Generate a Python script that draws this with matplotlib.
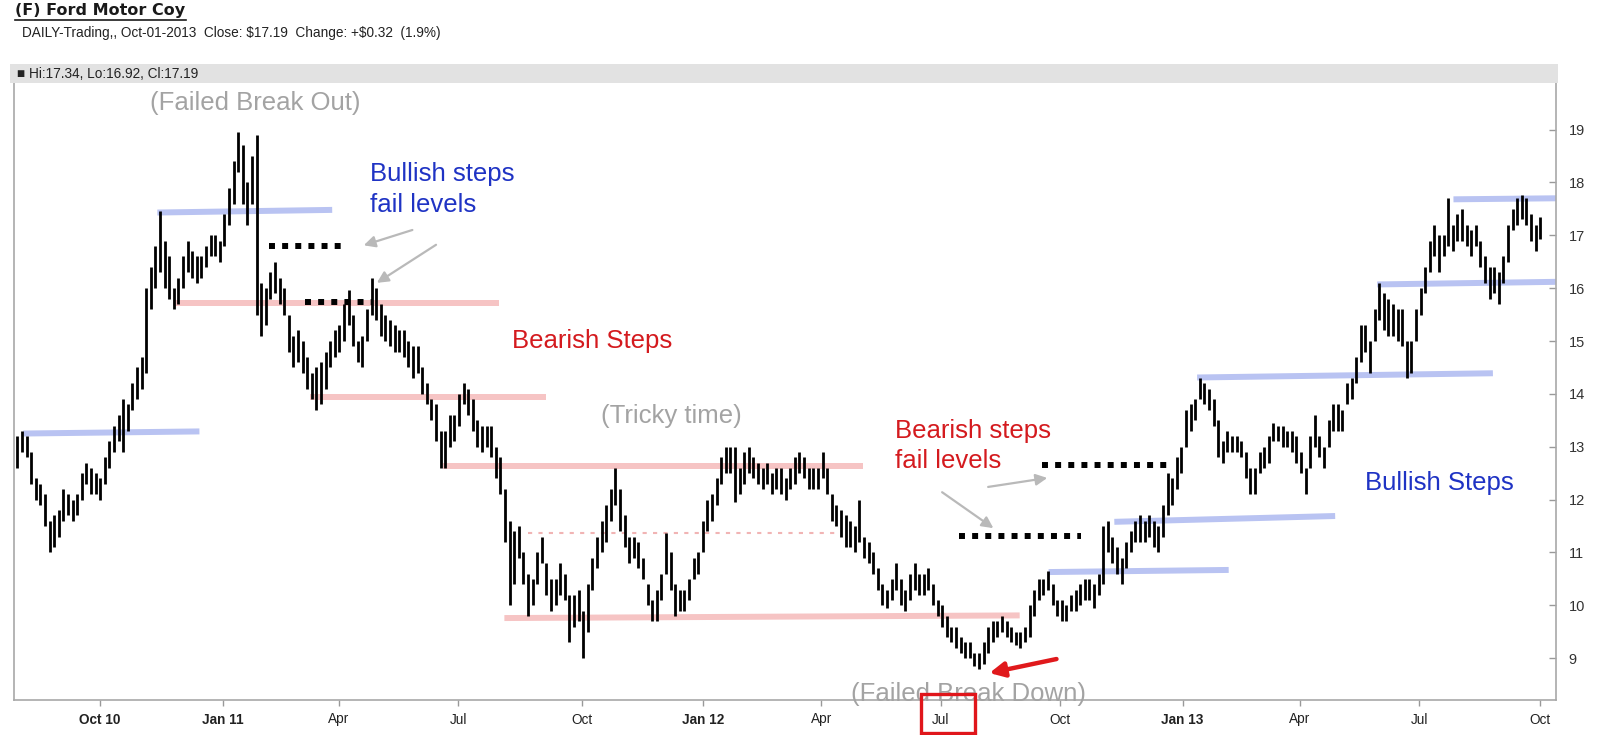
import pandas as pd
import matplotlib
matplotlib.use("Agg")
import matplotlib.pyplot as plt
import matplotlib.dates as mdates
from matplotlib.patches import Rectangle

plt.rcParams['font.family'] = ['Liberation Sans', 'DejaVu Sans']

# half-week bars (two per week, Mon-Wed / Wed-Fri), highs and lows
hi_2010 = [13.2,
           13.3, 13.2, 12.9, 12.4, 12.3, 12.1, 11.6, 11.7, 11.8, 12.2,   # Aug
           12.1, 12.0, 12.1, 12.5, 12.7, 12.6, 12.5, 12.4,               # Sep
           12.8, 13.1, 13.4, 13.6, 13.9, 13.8, 14.2, 14.5,               # Oct
           14.7, 16.0, 16.4, 16.8, 17.45, 16.9, 16.6, 16.0, 16.2, 16.6,  # Nov
           16.9, 16.7, 16.6, 16.6, 16.8, 17.0, 17.0, 16.9]               # Dec
lo_2010 = [12.6,
           12.9, 12.8, 12.3, 12.0, 11.9, 11.5, 11.0, 11.1, 11.3, 11.6,
           11.7, 11.6, 11.7, 12.0, 12.3, 12.1, 12.1, 12.0,
           12.3, 12.6, 12.9, 13.1, 12.9, 13.3, 13.7, 13.9,
           14.1, 14.4, 15.6, 16.0, 16.3, 16.0, 15.8, 15.6, 15.7, 16.0,
           16.3, 16.2, 16.1, 16.2, 16.4, 16.6, 16.6, 16.5]

hi_2011 = [17.4, 17.9, 18.4, 18.95, 18.7, 18.0, 18.5, 18.9, 16.1, 16.0,   # Jan
           16.3, 16.5, 16.2, 16.0, 15.5, 15.1, 15.2, 15.0,                # Feb
           14.7, 14.4, 14.5, 14.6, 14.8, 15.0, 15.2, 15.3,                # Mar
           15.7, 15.96, 15.5, 15.0, 15.1, 15.6, 16.2, 16.0,               # Apr
           15.7, 15.5, 15.4, 15.3, 15.2, 15.2, 15.0, 14.9, 14.9, 14.5,    # May
           14.2, 13.9, 13.8, 13.3, 13.3, 13.6, 13.6, 14.0,                # Jun
           14.2, 14.1, 13.9, 13.5, 13.4, 13.4, 13.4, 13.0,                # Jul
           12.8, 12.2, 11.6, 11.4, 11.5, 11.0, 10.6, 10.5, 11.0, 11.3,    # Aug
           10.8, 10.5, 10.5, 10.8, 10.6, 10.2, 10.2, 10.3,                # Sep
           9.9, 10.4, 10.9, 11.3, 11.6, 11.9, 12.2, 12.6, 12.2, 11.7,     # Oct
           11.3, 11.3, 11.2, 10.9, 10.4, 10.1, 10.3, 10.6,                # Nov
           11.36, 11.0, 10.4, 10.3, 10.3, 10.5, 10.9, 11.0]               # Dec
lo_2011 = [16.8, 17.2, 17.6, 18.2, 17.6, 17.2, 17.6, 15.5, 15.1, 15.3,
           15.8, 15.9, 15.7, 15.5, 14.8, 14.5, 14.6, 14.4,
           14.1, 13.9, 13.7, 13.8, 14.1, 14.5, 14.7, 14.8,
           15.0, 15.3, 14.9, 14.6, 14.5, 15.0, 15.5, 15.4,
           15.1, 15.0, 14.9, 14.8, 14.8, 14.7, 14.5, 14.3, 14.4, 14.0,
           13.8, 13.5, 13.1, 12.6, 12.6, 13.0, 13.1, 13.4,
           13.8, 13.6, 13.3, 13.0, 12.9, 13.0, 12.8, 12.4,
           12.1, 11.2, 10.0, 10.4, 10.9, 10.4, 9.8, 10.0, 10.4, 10.8,
           10.2, 9.9, 10.0, 10.2, 10.1, 9.3, 9.6, 9.7,
           9.0, 9.5, 10.3, 10.7, 11.0, 11.2, 11.6, 11.9, 11.4, 11.1,
           10.8, 10.9, 10.7, 10.5, 10.0, 9.7, 9.7, 10.1,
           10.6, 10.3, 9.8, 9.9, 9.9, 10.1, 10.5, 10.6]

hi_2012 = [11.6, 12.0, 12.1, 12.4, 12.8, 13.0, 13.0, 13.0, 12.6, 12.9,    # Jan
           13.0, 12.8, 12.7, 12.6, 12.7, 12.5, 12.6, 12.6,                # Feb
           12.4, 12.6, 12.8, 12.9, 12.8, 12.6, 12.6, 12.6,                # Mar
           12.9, 12.6, 12.1, 11.9, 11.8, 11.7, 11.6, 11.5, 12.0, 11.3,    # Apr
           11.2, 11.0, 10.7, 10.4, 10.3, 10.5, 10.8, 10.5,                # May
           10.3, 10.6, 10.8, 10.6, 10.6, 10.7, 10.4, 10.1,                # Jun
           10.0, 9.8, 9.6, 9.6, 9.4, 9.3, 9.3, 9.1, 9.1, 9.3,             # Jul
           9.6, 9.7, 9.7, 9.8, 9.7, 9.6, 9.5, 9.5,                        # Aug
           9.6, 10.0, 10.3, 10.5, 10.5, 10.65, 10.4, 10.1,                # Sep
           10.1, 10.0, 10.2, 10.3, 10.4, 10.5, 10.5, 10.4, 10.6, 11.5,    # Oct
           11.6, 11.3, 11.1, 10.9, 11.2, 11.4, 11.6, 11.7,                # Nov
           11.6, 11.7, 11.6, 11.5, 11.9, 12.5, 12.4, 12.8, 13.0, 13.7]    # Dec
lo_2012 = [11.0, 11.4, 11.6, 11.9, 12.3, 12.5, 12.5, 11.95, 12.1, 12.3,
           12.5, 12.4, 12.3, 12.2, 12.3, 12.1, 12.2, 12.1,
           12.0, 12.2, 12.3, 12.5, 12.4, 12.2, 12.2, 12.2,
           12.4, 12.1, 11.6, 11.5, 11.3, 11.1, 11.1, 11.0, 11.2, 10.9,
           10.8, 10.6, 10.3, 10.0, 9.95, 10.1, 10.3, 10.0,
           9.9, 10.1, 10.3, 10.2, 10.2, 10.3, 10.0, 9.8,
           9.6, 9.4, 9.3, 9.2, 9.1, 9.0, 9.0, 8.85, 8.8, 8.9,
           9.1, 9.3, 9.4, 9.5, 9.4, 9.3, 9.25, 9.2,
           9.3, 9.4, 9.8, 10.1, 10.2, 10.3, 10.0, 9.8,
           9.7, 9.7, 9.9, 9.9, 10.0, 10.1, 10.1, 9.95, 10.2, 10.4,
           11.0, 10.8, 10.6, 10.4, 10.7, 11.0, 11.2, 11.2,
           11.2, 11.3, 11.1, 11.0, 11.3, 11.7, 11.9, 12.2, 12.5, 13.0]

hi_2013 = [13.8, 13.9, 14.3, 14.2, 14.1, 13.9, 13.5, 13.1,                # Jan
           13.3, 13.2, 13.2, 13.1, 12.9, 12.6, 12.6, 12.9,                # Feb
           13.0, 13.2, 13.45, 13.4, 13.4, 13.3, 13.3, 13.2,               # Mar
           12.9, 12.6, 13.2, 13.6, 13.2, 13.0, 13.5, 13.8, 13.8, 13.7,    # Apr
           14.2, 14.3, 14.7, 15.3, 15.3, 15.0, 15.6, 16.1,                # May
           15.9, 15.8, 15.7, 15.6, 15.6, 15.0, 15.0, 15.6,                # Jun
           16.0, 16.4, 16.9, 17.2, 17.0, 17.0, 17.7, 17.2, 17.4, 17.5,    # Jul
           17.2, 17.1, 17.2, 16.9, 16.6, 16.4, 16.4, 16.3,                # Aug
           16.6, 17.2, 17.5, 17.7, 17.76, 17.7, 17.4, 17.2,               # Sep
           17.34]                                                         # Oct 1
lo_2013 = [13.3, 13.5, 13.9, 13.8, 13.7, 13.4, 12.8, 12.7,
           12.9, 12.9, 12.9, 12.8, 12.4, 12.1, 12.1, 12.5,
           12.6, 12.7, 13.1, 13.1, 13.0, 13.0, 12.9, 12.7,
           12.5, 12.1, 12.6, 13.0, 12.8, 12.6, 13.0, 13.3, 13.3, 13.3,
           13.8, 13.9, 14.2, 14.6, 14.8, 14.4, 15.0, 15.4,
           15.2, 15.1, 15.1, 15.0, 14.9, 14.3, 14.4, 15.0,
           15.5, 15.9, 16.3, 16.6, 16.3, 16.6, 16.8, 16.7, 16.9, 16.9,
           16.8, 16.6, 16.8, 16.4, 16.1, 15.8, 15.9, 15.7,
           16.1, 16.5, 17.1, 17.2, 17.3, 17.2, 16.9, 16.7,
           16.92]

hi = hi_2010 + hi_2011 + hi_2012 + hi_2013
lo = lo_2010 + lo_2011 + lo_2012 + lo_2013

mondays = pd.date_range('2010-07-26', '2013-09-30', freq='W-MON')
bar_days = [m + pd.Timedelta(days=o) for m in mondays for o in (1.0, 4.5)][1:-1]
n = min(len(bar_days), len(hi))
bar_x = mdates.date2num(bar_days[:n])

# support / resistance steps drawn on the chart: (start, end, level at start, level at end)
blue_steps = [('2010-08-04', '2010-12-16', 13.25, 13.29),
              ('2010-11-14', '2011-03-27', 17.43, 17.48),
              ('2012-09-22', '2013-02-06', 10.63, 10.67),
              ('2012-11-11', '2013-04-28', 11.58, 11.69),
              ('2013-01-13', '2013-08-26', 14.31, 14.39),
              ('2013-05-30', '2013-10-15', 16.07, 16.12),
              ('2013-07-27', '2013-10-15', 17.68, 17.70)]
red_steps = [('2010-11-26', '2011-08-01', 15.71, 15.71),
             ('2011-03-10', '2011-09-06', 13.95, 13.95),
             ('2011-06-19', '2012-05-04', 12.64, 12.64),
             ('2011-08-05', '2012-08-31', 9.76, 9.81)]
pink_dotted = ('2011-08-23', '2012-04-14', 11.37)
fail_levels = [('2011-02-07', '2011-04-04', 16.79),
               ('2011-03-06', '2011-04-27', 15.74),
               ('2012-07-16', '2012-10-17', 11.31),
               ('2012-09-17', '2012-12-21', 12.65)]

tick_days = ['2010-10-01', '2011-01-03', '2011-04-01', '2011-07-01', '2011-10-03',
             '2012-01-03', '2012-04-02', '2012-07-02', '2012-10-01', '2013-01-02',
             '2013-04-01', '2013-07-01', '2013-10-01']
tick_labels = ['Oct 10', 'Jan 11', 'Apr', 'Jul', 'Oct', 'Jan 12', 'Apr', 'Jul', 'Oct',
               'Jan 13', 'Apr', 'Jul', 'Oct']

W, H = 1600, 735


def fx(px):
    return px / W


def fy(py):
    return 1 - py / H


def d(s):
    return mdates.date2num(pd.Timestamp(s))


fig = plt.figure(figsize=(16, 7.35), dpi=100)
fig.patch.set_facecolor('white')
ax = fig.add_axes([fx(13.8), fy(700), fx(1556 - 13.8), (700 - 83) / H])

for s0, s1, y0, y1 in blue_steps:
    ax.plot([d(s0), d(s1)], [y0, y1], color='#b9c3f2', lw=4.3, solid_capstyle='butt', zorder=1)
for s0, s1, y0, y1 in red_steps:
    ax.plot([d(s0), d(s1)], [y0, y1], color='#f6c4c4', lw=4.3, solid_capstyle='butt', zorder=1)
ax.plot([d(pink_dotted[0]), d(pink_dotted[1])], [pink_dotted[2]] * 2, color='#f1b4b4',
        lw=1.5, linestyle=(0, (2, 3)), zorder=1)

ax.vlines(bar_x, lo[:n], hi[:n], color='black', lw=2.0, zorder=2)

for s0, s1, y in fail_levels:
    ax.plot([d(s0), d(s1)], [y, y], color='black', lw=4.3, linestyle=(0, (1, 1.2)),
            dash_capstyle='butt', zorder=3)

gray_arrows = [(('2011-05-27', 17.10), ('2011-04-20', 16.81)),
               (('2011-06-14', 16.82), ('2011-04-30', 16.10)),
               (('2012-07-03', 12.14), ('2012-08-11', 11.46)),
               (('2012-08-07', 12.24), ('2012-09-21', 12.41))]
for (t, ty), (h, hy) in gray_arrows:
    ax.annotate('', xy=(d(h), hy), xytext=(d(t), ty),
                arrowprops=dict(arrowstyle='-|>', color='#b9b9b9', lw=1.6,
                                mutation_scale=17, shrinkA=0, shrinkB=0), zorder=4)
ax.annotate('', xy=(d('2012-08-08'), 8.72), xytext=(d('2012-09-28'), 8.985),
            arrowprops=dict(arrowstyle='-|>', color='#e0191c', lw=3.2,
                            mutation_scale=22, shrinkA=0, shrinkB=0), zorder=4)

ax.set_xlim(d('2010-07-27 19:00'), d('2013-10-13'))
ax.set_ylim(8.21, 19.88)

ax.set_xticks([d(t) for t in tick_days])
ax.set_xticklabels(tick_labels)
for lab in ax.get_xticklabels():
    if ' ' in lab.get_text():
        lab.set_fontweight('bold')
ax.yaxis.tick_right()
ax.set_yticks(range(9, 20))
ax.tick_params(axis='x', direction='out', length=4, width=1, color='#999999',
               labelsize=9.8, pad=5, labelcolor='#222222')
ax.tick_params(axis='y', direction='in', length=5, width=1, color='#999999',
               labelsize=10.5, pad=9, labelcolor='#333333')
ax.spines['top'].set_visible(False)
for side in ('left', 'right', 'bottom'):
    ax.spines[side].set_color('#a8a8a8')
    ax.spines[side].set_linewidth(1.2)

# header
fig.patches.append(Rectangle((fx(10), fy(82.7)), fx(1558 - 10), (82.7 - 64.3) / H,
                             transform=fig.transFigure, facecolor='#e2e2e2',
                             edgecolor='none', zorder=0))
fig.text(fx(15), fy(10.5), '(F) Ford Motor Coy', family='DejaVu Sans', weight='bold',
         fontsize=11.5, color='#1a1a1a', va='center', ha='left')
fig.add_artist(plt.Line2D([fx(15), fx(186)], [fy(19.5), fy(19.5)], color='#1a1a1a',
                          lw=1.2, transform=fig.transFigure))
fig.text(fx(22), fy(32.7),
         r'DAILY-Trading,, Oct-01-2013  Close: \$17.19  Change: +\$0.32  (1.9%)',
         fontsize=9.8, color='#222222', va='center', ha='left')
fig.text(fx(17), fy(73.5), '■ Hi:17.34, Lo:16.92, Cl:17.19', fontsize=9.8,
         color='#222222', va='center', ha='left')

# annotations
gray, blue, red = '#a3a3a3', '#1f33c4', '#d41a1e'
fs = 18.5
fig.text(fx(255), fy(103), '(Failed Break Out)', color=gray, fontsize=fs, ha='center', va='center')
fig.text(fx(370), fy(173.5), 'Bullish steps', color=blue, fontsize=fs, ha='left', va='center')
fig.text(fx(370), fy(205), 'fail levels', color=blue, fontsize=fs, ha='left', va='center')
fig.text(fx(512), fy(341), 'Bearish Steps', color=red, fontsize=fs, ha='left', va='center')
fig.text(fx(671), fy(416), '(Tricky time)', color=gray, fontsize=fs, ha='center', va='center')
fig.text(fx(895), fy(431), 'Bearish steps', color=red, fontsize=fs, ha='left', va='center')
fig.text(fx(895), fy(461), 'fail levels', color=red, fontsize=fs, ha='left', va='center')
fig.text(fx(1365), fy(483), 'Bullish Steps', color=blue, fontsize=fs, ha='left', va='center')
fig.text(fx(968.5), fy(694), '(Failed Break Down)', color=gray, fontsize=fs, ha='center',
         va='center', zorder=5)

fig.patches.append(Rectangle((fx(921), fy(733)), fx(975 - 921), (733 - 694) / H,
                             transform=fig.transFigure, facecolor='none',
                             edgecolor='#e0161b', lw=2.4, zorder=6))

fig.savefig('out.png', dpi=100)
